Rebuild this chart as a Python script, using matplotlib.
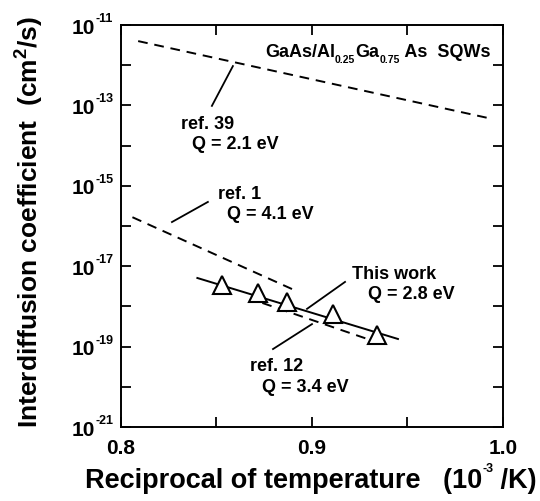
import numpy as np
import matplotlib
matplotlib.use('Agg')
import matplotlib.pyplot as plt
import matplotlib.transforms as mtransforms

plt.rcParams['font.family'] = ['Liberation Sans', 'DejaVu Sans']
plt.rcParams['font.weight'] = 'bold'
plt.rcParams['mathtext.fontset'] = 'custom'
plt.rcParams['mathtext.rm'] = 'Liberation Sans:bold'
plt.rcParams['mathtext.bf'] = 'Liberation Sans:bold'
plt.rcParams['mathtext.it'] = 'Liberation Sans:bold'

# this work: measured points (1000/T in 1e-3/K, D in cm^2/s)
inv_t = [0.853, 0.872, 0.887, 0.911, 0.934]
d_meas = [3.4e-18, 2.1e-18, 1.26e-18, 6.3e-19, 2.0e-19]

# Arrhenius fit lines, given by their end points
fit_x = [0.840, 0.945]
fit_d = [5.1e-18, 1.55e-19]
ref39_x = [0.809, 0.992]
ref39_d = [4.0e-12, 4.9e-14]
ref1_x = [0.806, 0.892]
ref1_d = [1.66e-16, 2.4e-18]
ref12_x = [0.874, 0.929]
ref12_d = [1.22e-18, 1.55e-19]

xticks = [0.8, 0.9, 1.0]
xtick_labels = ['0.8', '0.9', '1.0']
yexp = list(range(-21, -10))

W, H = 540, 502
fig = plt.figure(figsize=(W / 100, H / 100), dpi=100)
ax = fig.add_axes([0.224, 0.1474, 0.7075, 0.8006])
renderer = fig.canvas.get_renderer()


def run_text(x, y, parts):
    # consecutive text pieces on one baseline, in figure pixels
    for s, size, dy in parts:
        t = fig.text(x / W, (y + dy) / H, s, fontsize=size, fontweight='bold',
                     va='baseline', ha='left')
        x = t.get_window_extent(renderer).x1


dash = (0, (5, 3.5))
ax.plot(ref39_x, ref39_d, color='black', lw=1.4, linestyle=dash)
ax.plot(ref1_x, ref1_d, color='black', lw=1.4, linestyle=dash)
ax.plot(ref12_x, ref12_d, color='black', lw=1.4, linestyle=dash)
ax.plot(fit_x, fit_d, color='black', lw=1.4)
ax.plot(inv_t, d_meas, linestyle='none', marker='^', ms=12.5, mfc='white',
        mec='black', mew=1.5)

ax.set_yscale('log')
ax.set_xlim(0.8, 1.0)
ax.set_ylim(1e-21, 1e-11)

ax.set_xticks(xticks)
ax.set_xticklabels(xtick_labels)
ax.set_xticks([0.85, 0.95], minor=True)
ax.set_yticks([10.0 ** e for e in yexp])
ax.set_yticklabels(['10' if e % 2 else '' for e in yexp])
ax.yaxis.set_minor_locator(matplotlib.ticker.NullLocator())

ax.tick_params(which='both', direction='in', top=True, right=True,
               length=7, width=1.3, labelsize=15)
ax.tick_params(axis='x', pad=8)
ax.tick_params(axis='y', pad=18.5)
for s in ax.spines.values():
    s.set_linewidth(1.4)

# exponents of the y tick labels
trans = mtransforms.blended_transform_factory(ax.transAxes, ax.transData)
for e in yexp:
    if e % 2:
        ax.text(-0.0654, 10 ** (e + 0.1), '-%d' % -e, transform=trans,
                fontsize=9, fontweight='bold', va='baseline', ha='left')

ax.set_ylabel(r'Interdiffusion coefficient  (cm$^{2}$/s)', fontsize=19,
              fontweight='bold')
ax.yaxis.set_label_coords(-0.195, 0.512)

run_text(85, 14, [('Reciprocal of temperature   (10', 19.5, 0),
                  ('-3', 9, 16), (' /K)', 19.5, 0)])

# leader lines from labels to curves
lead = dict(color='black', lw=1.3)
ax.plot([0.8476, 0.8586], [10 ** -13.01, 10 ** -12.02], **lead)
ax.plot([0.8267, 0.8455], [10 ** -15.90, 10 ** -15.40], **lead)
ax.plot([0.8974, 0.9173], [10 ** -18.06, 10 ** -17.39], **lead)
ax.plot([0.8796, 0.9000], [10 ** -19.06, 10 ** -18.44], **lead)

run_text(265, H - 57, [('GaAs/Al', 13, 0), ('0.25', 7.5, -6), ('Ga', 13, 0),
                       ('0.75', 7.5, -6), (' As  SQWs', 13, 0)])

txt = dict(fontsize=13, fontweight='bold', va='center', ha='left')
ax.text(0.8314, 10 ** -13.46, 'ref. 39', **txt)
ax.text(0.8372, 10 ** -13.94, 'Q = 2.1 eV', **txt)
ax.text(0.8508, 10 ** -15.18, 'ref. 1', **txt)
ax.text(0.8555, 10 ** -15.68, 'Q = 4.1 eV', **txt)
ax.text(0.9209, 10 ** -17.17, 'This work', **txt)
ax.text(0.9293, 10 ** -17.67, 'Q = 2.8 eV', **txt)
ax.text(0.8675, 10 ** -19.48, 'ref. 12', **txt)
ax.text(0.8738, 10 ** -19.98, 'Q = 3.4 eV', **txt)

fig.savefig('out.png', dpi=100)
